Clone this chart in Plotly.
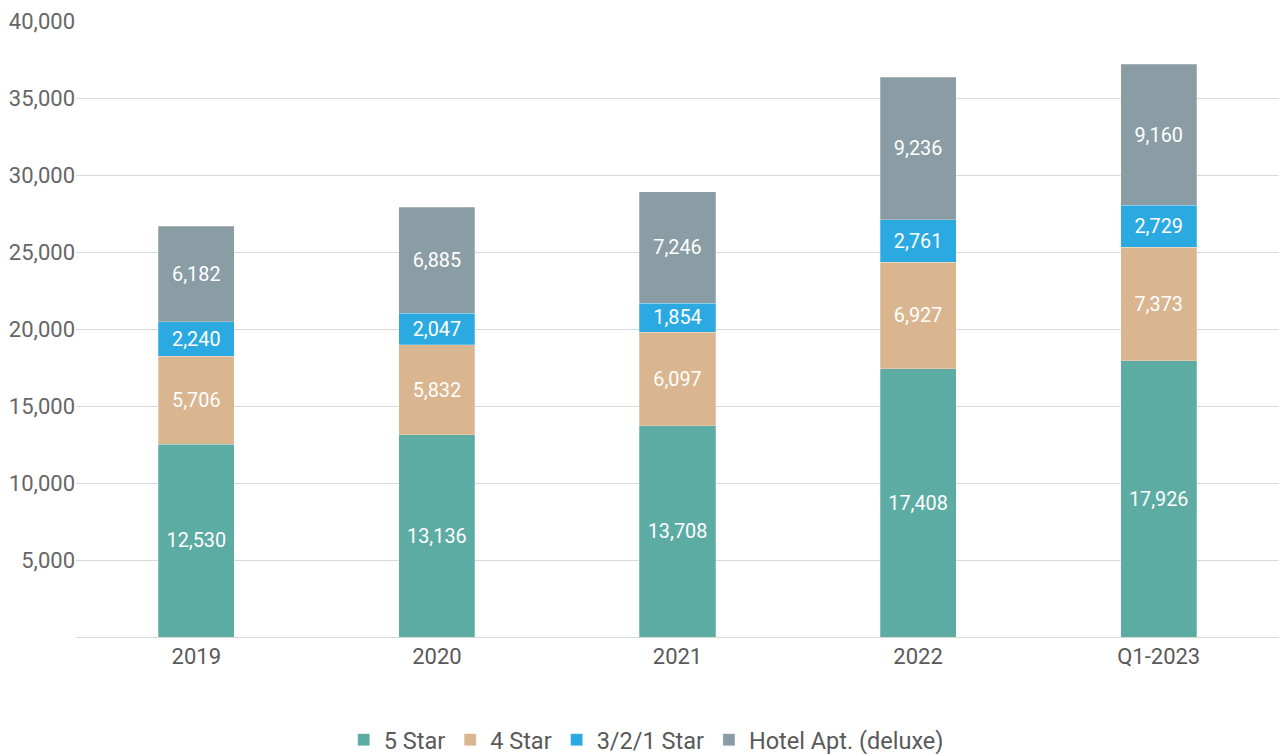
import plotly.graph_objects as go

categories = ["2019", "2020", "2021", "2022", "Q1-2023"]
five_star = [12530, 13136, 13708, 17408, 17926]
four_star = [5706, 5832, 6097, 6927, 7373]
three_two_one_star = [2240, 2047, 1854, 2761, 2729]
hotel_apt = [6182, 6885, 7246, 9236, 9160]

y_ticks = [5000, 10000, 15000, 20000, 25000, 30000, 35000, 40000]

series = [
    ("5 Star", five_star, "#5DACA3"),
    ("4 Star", four_star, "#D9B590"),
    ("3/2/1 Star", three_two_one_star, "#2BAAE2"),
    ("Hotel Apt. (deluxe)", hotel_apt, "#8A9CA4"),
]

fig = go.Figure()
for name, vals, color in series:
    fig.add_trace(go.Bar(
        name=name,
        x=categories,
        y=vals,
        marker=dict(color=color, line=dict(color="rgba(255,255,255,0.5)", width=0.5)),
        text=[f"{v:,}" for v in vals],
        textposition="inside",
        insidetextanchor="middle",
        textangle=0,
        textfont=dict(color="white", size=22, family="Roboto"),
        hoverinfo="skip",
    ))

fig.update_layout(
    barmode="stack",
    bargap=0.684,
    width=1279,
    height=754,
    margin=dict(l=76, r=0, t=21, b=117, autoexpand=False),
    paper_bgcolor="white",
    plot_bgcolor="white",
    font=dict(family="Roboto", color="#666666", size=22),
    uniformtext=dict(minsize=8, mode="show"),
    legend=dict(
        orientation="h",
        x=0.474, xanchor="center",
        y=-0.167, yanchor="middle",
        font=dict(size=23.5, color="#595959"),
        itemwidth=30,
        traceorder="normal",
    ),
    xaxis=dict(
        showgrid=False,
        showline=True,
        linecolor="#D9D9D9",
        linewidth=1,
        ticks="",
        tickfont=dict(size=22, color="#595959"),
    ),
    yaxis=dict(
        range=[0, 40000],
        tickvals=y_ticks,
        tickformat=",",
        showgrid=True,
        gridcolor="#D9D9D9",
        gridwidth=1,
        zeroline=False,
        ticks="",
        ticklabelstandoff=0,
        tickfont=dict(size=22, color="#666666"),
    ),
)

fig.write_html("out.html")
